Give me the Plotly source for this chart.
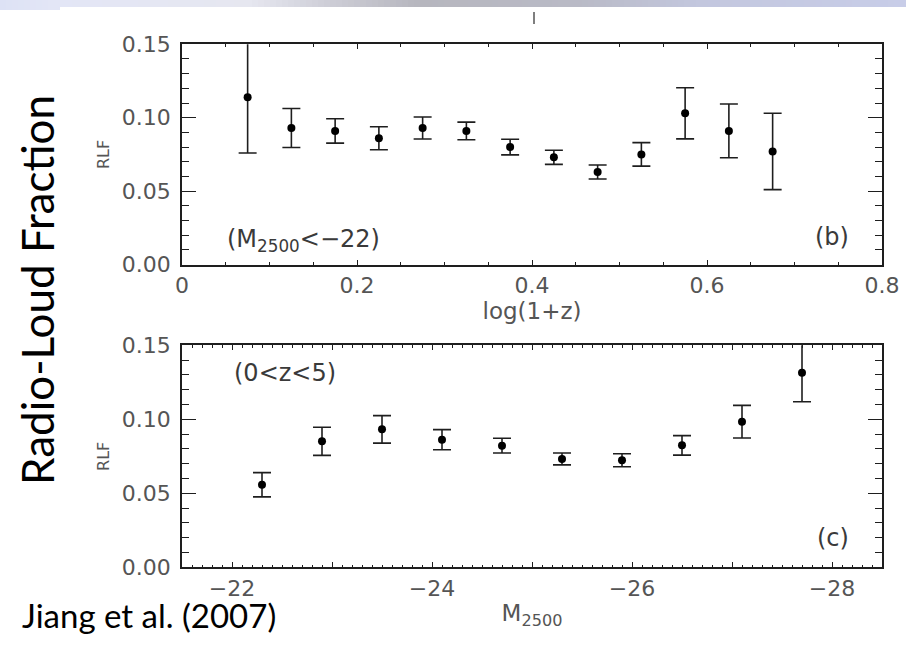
import plotly.graph_objects as go

# ---- data -------------------------------------------------------------
# radio-loud fraction vs redshift, M2500 < -22
logz_bins = [0.075, 0.125, 0.175, 0.225, 0.275, 0.325, 0.375,
             0.425, 0.475, 0.525, 0.575, 0.625, 0.675]
rlf_z = [0.114, 0.093, 0.091, 0.086, 0.093, 0.091, 0.080,
         0.073, 0.063, 0.075, 0.103, 0.091, 0.077]
err_z = [0.038, 0.0133, 0.0083, 0.0078, 0.0075, 0.0060, 0.0053,
         0.0048, 0.0048, 0.0080, 0.0174, 0.0183, 0.0260]

# radio-loud fraction vs absolute magnitude, 0 < z < 5
m_bins = [-22.3, -22.9, -23.5, -24.1, -24.7, -25.3, -25.9, -26.5, -27.1, -27.7]
rlf_m = [0.0558, 0.0851, 0.0932, 0.0862, 0.0822, 0.0732, 0.0723, 0.0824,
         0.0984, 0.1315]
err_m = [0.0082, 0.0095, 0.0093, 0.0068, 0.0050, 0.0040, 0.0044, 0.0066,
         0.0110, 0.0196]

rlf_ticks = [0.0, 0.05, 0.10, 0.15]
rlf_ticktext = ["0.00", "0.05", "0.10", "0.15"]
logz_ticks = [0, 0.2, 0.4, 0.6, 0.8]
logz_ticktext = ["0", "0.2", "0.4", "0.6", "0.8"]
mag_ticks = [-22, -23, -24, -25, -26, -27, -28]
mag_ticktext = ["\u221222", "", "\u221224", "", "\u221226", "", "\u221228"]

# ---- styling ------------------------------------------------------------
W, H = 906, 648
INK = "#1e1e1e"
LABEL = "#555555"
TICKFONT = dict(family="DejaVu Sans", size=22, color=LABEL)


def px_x(p):
    return p / W


def px_y(p):
    return 1 - p / H


fig = go.Figure()

marker = dict(color="black", size=8)
ebar = dict(type="data", thickness=1.6, width=9, color=INK)

fig.add_trace(go.Scatter(
    x=logz_bins, y=rlf_z, mode="markers", marker=marker,
    error_y=dict(array=err_z, **ebar), xaxis="x", yaxis="y",
    showlegend=False, cliponaxis=True))
fig.add_trace(go.Scatter(
    x=m_bins, y=rlf_m, mode="markers", marker=marker,
    error_y=dict(array=err_m, **ebar), xaxis="x2", yaxis="y2",
    showlegend=False, cliponaxis=True))

xdom = [px_x(182), px_x(882)]
top_dom = [px_y(264.5), px_y(44.3)]
bot_dom = [px_y(567.3), px_y(345.3)]

axis_common = dict(showline=True, linecolor=INK, linewidth=1.8, mirror="ticks",
                   ticks="inside", tickcolor=INK, tickwidth=1.3,
                   showgrid=False, zeroline=False, tickfont=TICKFONT,
                   automargin=False)

fig.update_layout(
    width=W, height=H, autosize=False,
    margin=dict(l=0, r=0, t=0, b=0, pad=0, autoexpand=False),
    showlegend=False,
    paper_bgcolor="white", plot_bgcolor="white",
    xaxis=dict(domain=xdom, range=[0, 0.8], anchor="y",
               tickmode="array", tickvals=logz_ticks, ticktext=logz_ticktext,
               ticklen=5, ticklabelstandoff=0,
               minor=dict(dtick=0.05, ticklen=3, ticks="inside",
                          tickcolor=INK, tickwidth=1.2),
               title=dict(text="log(1+z)", standoff=1,
                          font=dict(family="DejaVu Sans", size=23, color=LABEL)),
               **axis_common),
    yaxis=dict(domain=top_dom, range=[0, 0.15], anchor="x",
               tickmode="array", tickvals=rlf_ticks, ticktext=rlf_ticktext,
               ticklen=14, ticklabelstandoff=5,
               minor=dict(dtick=0.01, ticklen=7, ticks="inside",
                          tickcolor=INK, tickwidth=1.2),
               title=dict(text="RLF", standoff=8,
                          font=dict(family="DejaVu Sans", size=16, color=LABEL)),
               **axis_common),
    xaxis2=dict(domain=xdom, range=[-21.5, -28.5], anchor="y2",
                tickmode="array", tickvals=mag_ticks, ticktext=mag_ticktext,
                ticklen=5, ticklabelstandoff=0,
                minor=dict(dtick=0.1, ticklen=2.5, ticks="inside",
                           tickcolor=INK, tickwidth=1.1),
                title=dict(text="M<sub>2500</sub>", standoff=5,
                           font=dict(family="DejaVu Sans", size=23, color=LABEL)),
                **axis_common),
    yaxis2=dict(domain=bot_dom, range=[0, 0.15], anchor="x2",
                tickmode="array", tickvals=rlf_ticks, ticktext=rlf_ticktext,
                ticklen=14, ticklabelstandoff=5,
                minor=dict(dtick=0.01, ticklen=7, ticks="inside",
                           tickcolor=INK, tickwidth=1.2),
                title=dict(text="RLF", standoff=8,
                           font=dict(family="DejaVu Sans", size=16, color=LABEL)),
                **axis_common),
)

# panel captions
panel_font = dict(family="DejaVu Sans", size=24, color="#3a3a3a")
fig.add_annotation(text="(M<sub>2500</sub>&lt;\u221222)", xref="x domain", yref="y domain",
                   x=0.061, y=0.11, xanchor="left", yanchor="middle",
                   showarrow=False, font=panel_font)
fig.add_annotation(text="(b)", xref="x domain", yref="y domain",
                   x=0.955, y=0.125, xanchor="right", yanchor="middle",
                   showarrow=False, font=panel_font)
fig.add_annotation(text="(0&lt;z&lt;5)", xref="x2 domain", yref="y2 domain",
                   x=0.071, y=0.875, xanchor="left", yanchor="middle",
                   showarrow=False, font=panel_font)
fig.add_annotation(text="(c)", xref="x2 domain", yref="y2 domain",
                   x=0.955, y=0.132, xanchor="right", yanchor="middle",
                   showarrow=False, font=panel_font)

# slide text
fig.add_annotation(text="Radio-Loud Fraction", xref="paper", yref="paper",
                   x=px_x(37), y=px_y(290), xanchor="center", yanchor="middle",
                   textangle=-90, showarrow=False,
                   font=dict(family="Lato", size=44, color="black"))
fig.add_annotation(text="Jiang et al. (2007)", xref="paper", yref="paper",
                   x=px_x(20), y=px_y(615), xanchor="left", yanchor="middle",
                   showarrow=False,
                   font=dict(family="Lato", size=33, color="black"))

# slide header band
band_stops = [(0, (221, 226, 245)), (55, (227, 230, 246)), (250, (230, 231, 240)),
              (330, (205, 205, 214)), (420, (182, 182, 190)), (580, (185, 186, 198)),
              (700, (195, 199, 222)), (906, (200, 205, 232))]
shapes = []
step = 6
for x0 in range(0, W, step):
    xm = x0 + step / 2
    for (a, ca), (b, cb) in zip(band_stops[:-1], band_stops[1:]):
        if a <= xm <= b:
            t = (xm - a) / (b - a)
            c = tuple(int(round(ca[i] + (cb[i] - ca[i]) * t)) for i in range(3))
            break
    y1 = 10 if x0 < 55 else 7
    shapes.append(dict(type="rect", xref="paper", yref="paper",
                       x0=px_x(x0), x1=px_x(min(x0 + step, W)),
                       y0=px_y(y1), y1=1, line=dict(width=0),
                       fillcolor="rgb(%d,%d,%d)" % c, layer="below"))
shapes.append(dict(type="line", xref="paper", yref="paper",
                   x0=px_x(534), x1=px_x(534), y0=px_y(12), y1=px_y(24),
                   line=dict(color="#555555", width=1.5)))
fig.update_layout(shapes=shapes)

fig.write_html("out.html")
